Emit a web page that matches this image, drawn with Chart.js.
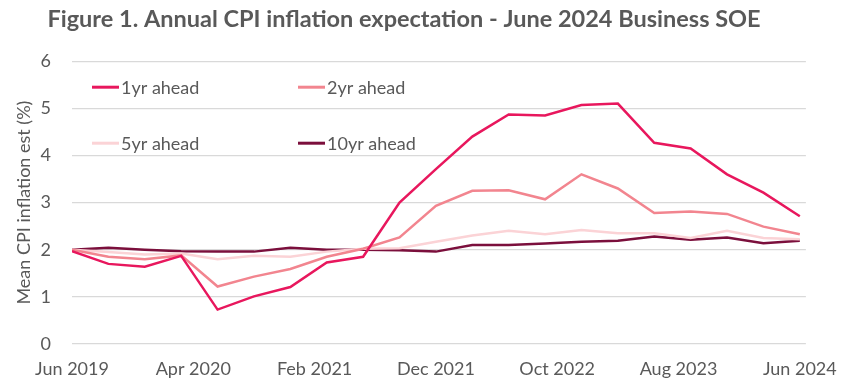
<!DOCTYPE html>
<html>
<head>
<meta charset="utf-8">
<script src="https://cdn.jsdelivr.net/npm/chart.js@4.4.1/dist/chart.umd.min.js"></script>
<style>
    html, body { margin: 0; padding: 0; background: #ffffff; }
    #cpiChart { display: block; }
</style>
</head>
<body>
<canvas id="cpiChart" width="843" height="389"></canvas>
<script>
// quarterly survey dates, Jun 2019 - Jun 2024
const quarters = [
    'Jun 2019', 'Sep 2019', 'Dec 2019', 'Mar 2020', 'Jun 2020', 'Sep 2020', 'Dec 2020',
    'Mar 2021', 'Jun 2021', 'Sep 2021', 'Dec 2021', 'Mar 2022', 'Jun 2022', 'Sep 2022',
    'Dec 2022', 'Mar 2023', 'Jun 2023', 'Sep 2023', 'Dec 2023', 'Mar 2024', 'Jun 2024'
];

const oneYear = [1.97, 1.70, 1.64, 1.87, 0.73, 1.01, 1.21, 1.73, 1.85, 3.00, 3.71, 4.40, 4.87, 4.85, 5.07, 5.10, 4.27, 4.15, 3.60, 3.21, 2.71];
const twoYear = [2.00, 1.85, 1.80, 1.88, 1.22, 1.43, 1.59, 1.85, 2.02, 2.26, 2.93, 3.25, 3.26, 3.07, 3.60, 3.30, 2.78, 2.81, 2.76, 2.49, 2.33];
const fiveYear = [2.00, 1.95, 1.90, 1.92, 1.80, 1.87, 1.85, 1.96, 2.02, 2.03, 2.17, 2.30, 2.40, 2.33, 2.42, 2.35, 2.35, 2.25, 2.40, 2.25, 2.22];
const tenYear = [2.00, 2.04, 2.00, 1.97, 1.96, 1.96, 2.04, 2.00, 2.00, 1.99, 1.96, 2.10, 2.10, 2.13, 2.17, 2.19, 2.28, 2.21, 2.26, 2.14, 2.19];

// x axis labels every 10 months
const tickMonths = [0, 10, 20, 30, 40, 50, 60];
const tickLabels = ['Jun 2019', 'Apr 2020', 'Feb 2021', 'Dec 2021', 'Oct 2022', 'Aug 2023', 'Jun 2024'];

const textColor = '#595959';
const fontName = 'Lato, "Open Sans", sans-serif';

function toPoints(values) {
    let pts = [];
    for (let i in values) {
        pts.push({ x: i * 3, y: values[i] });
    }
    return pts;
}

// legend in two columns inside the plot, like the excel chart
const insideLegend = {
    id: 'insideLegend',
    afterDraw(chart) {
        const ctx = chart.ctx;
        const area = chart.chartArea;
        const cols = [area.left + 20, area.left + 226];
        const rows = [area.top + 26, area.top + 82];
        ctx.save();
        ctx.font = '18px ' + fontName;
        ctx.textBaseline = 'middle';
        chart.data.datasets.forEach(function (ds, i) {
            const x = cols[i % 2];
            const y = rows[Math.floor(i / 2)];
            ctx.strokeStyle = ds.borderColor;
            ctx.lineWidth = 3;
            ctx.beginPath();
            ctx.moveTo(x, y);
            ctx.lineTo(x + 27, y);
            ctx.stroke();
            ctx.fillStyle = textColor;
            ctx.fillText(ds.label, x + 29, y + 1);
        });
        ctx.restore();
    }
};

new Chart(document.getElementById('cpiChart'), {
    type: 'line',
    data: {
        datasets: [
            { label: '1yr ahead', data: toPoints(oneYear), borderColor: '#E8175D', borderWidth: 2.5 },
            { label: '2yr ahead', data: toPoints(twoYear), borderColor: '#F2858F', borderWidth: 2.5 },
            { label: '5yr ahead', data: toPoints(fiveYear), borderColor: '#FBD3D6', borderWidth: 2.5 },
            { label: '10yr ahead', data: toPoints(tenYear), borderColor: '#7B0F3C', borderWidth: 2.5 }
        ]
    },
    options: {
        responsive: false,
        animation: false,
        elements: {
            point: { radius: 0 },
            line: { tension: 0 }
        },
        layout: {
            padding: { left: 0, right: 35, top: 0, bottom: 0 }
        },
        scales: {
            x: {
                type: 'linear',
                min: 0,
                max: 60.5,
                grid: { display: false },
                border: { display: false },
                afterBuildTicks: function (scale) {
                    scale.ticks = tickMonths.map(function (m) { return { value: m }; });
                },
                afterFit: function (scale) { scale.height = 45; },
                ticks: {
                    color: textColor,
                    font: { family: fontName, size: 18 },
                    maxRotation: 0,
                    padding: 6,
                    callback: function (value) {
                        return tickLabels[tickMonths.indexOf(value)];
                    }
                }
            },
            y: {
                min: 0,
                max: 6,
                grid: { color: '#D9D9D9', lineWidth: 1.2, drawTicks: false },
                border: { display: false },
                afterFit: function (scale) { scale.width = 72; },
                ticks: {
                    stepSize: 1,
                    color: textColor,
                    font: { family: fontName, size: 18 },
                    padding: 21
                },
                title: {
                    display: true,
                    text: 'Mean CPI inflation est (%)',
                    color: textColor,
                    font: { family: fontName, size: 18 },
                    padding: { top: 13, bottom: 0 }
                }
            }
        },
        plugins: {
            legend: { display: false },
            tooltip: { enabled: false },
            title: {
                display: true,
                text: 'Figure 1. Annual CPI inflation expectation - June 2024 Business SOE',
                color: textColor,
                font: { family: fontName, size: 23.5, weight: 'bold' },
                padding: { top: 5, bottom: 28 }
            }
        }
    },
    plugins: [insideLegend]
});
</script>
</body>
</html>
